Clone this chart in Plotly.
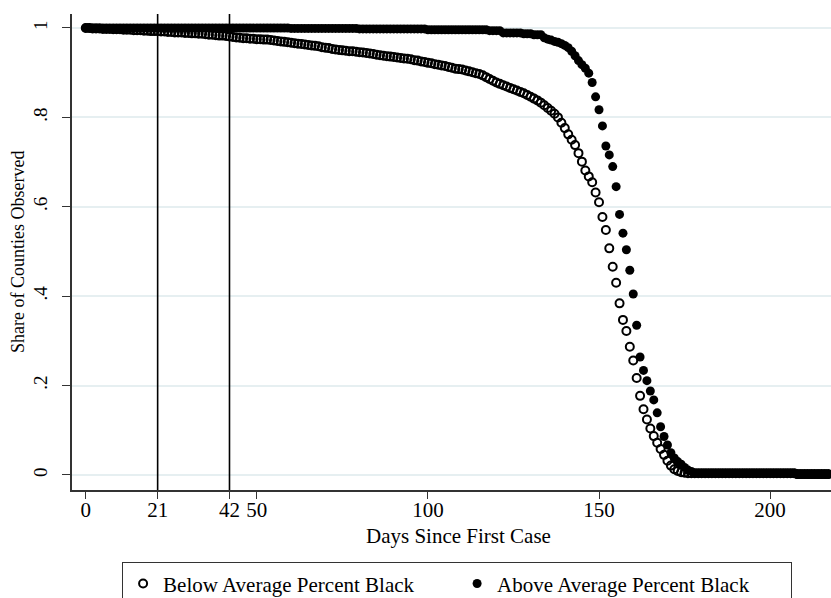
import plotly.graph_objects as go

days = list(range(0, 218))

below = [
    1.000, 1.000, 0.999, 0.999, 0.999, 0.998, 0.998, 0.998, 0.997, 0.997,
    0.997, 0.996, 0.996, 0.996, 0.995, 0.995, 0.995, 0.994, 0.994, 0.993,
    0.993, 0.993, 0.992, 0.992, 0.991, 0.991, 0.990, 0.990, 0.990, 0.989,
    0.989, 0.988, 0.988, 0.987, 0.987, 0.986, 0.985, 0.985, 0.984, 0.983,
    0.983, 0.982, 0.981, 0.980, 0.979, 0.978, 0.977, 0.977, 0.976, 0.976,
    0.975, 0.975, 0.974, 0.974, 0.973, 0.972, 0.971, 0.970, 0.969, 0.968,
    0.967, 0.966, 0.965, 0.964, 0.963, 0.962, 0.961, 0.960, 0.959, 0.957,
    0.956, 0.955, 0.953, 0.952, 0.951, 0.950, 0.949, 0.948, 0.948, 0.947,
    0.946, 0.945, 0.944, 0.943, 0.942, 0.940, 0.939, 0.938, 0.937, 0.936,
    0.935, 0.934, 0.933, 0.932, 0.931, 0.930, 0.928, 0.927, 0.925, 0.924,
    0.922, 0.921, 0.919, 0.918, 0.916, 0.915, 0.913, 0.911, 0.909, 0.908,
    0.907, 0.905, 0.903, 0.901, 0.899, 0.897, 0.894, 0.890, 0.886, 0.882,
    0.878, 0.875, 0.872, 0.869, 0.866, 0.863, 0.860, 0.857, 0.854, 0.850,
    0.846, 0.842, 0.838, 0.833, 0.827, 0.821, 0.815, 0.808, 0.800, 0.788,
    0.776, 0.762, 0.750, 0.738, 0.720, 0.701, 0.681, 0.668, 0.655, 0.632,
    0.610, 0.577, 0.548, 0.507, 0.466, 0.430, 0.384, 0.347, 0.322, 0.287,
    0.256, 0.217, 0.177, 0.147, 0.124, 0.104, 0.087, 0.072, 0.058, 0.045,
    0.032, 0.021, 0.013, 0.009, 0.006, 0.005, 0.004, 0.004, 0.004, 0.004,
    0.004, 0.004, 0.004, 0.004, 0.004, 0.004, 0.004, 0.004, 0.004, 0.004,
    0.004, 0.004, 0.004, 0.004, 0.004, 0.004, 0.004, 0.004, 0.004, 0.004,
    0.004, 0.004, 0.004, 0.004, 0.004, 0.004, 0.004, 0.004, 0.002, 0.002,
    0.002, 0.002, 0.002, 0.002, 0.002, 0.002, 0.002, 0.002,
]

above = [
    1.000, 1.000, 1.000, 1.000, 1.000, 1.000, 1.000, 1.000, 1.000, 1.000,
    1.000, 1.000, 1.000, 1.000, 1.000, 1.000, 1.000, 1.000, 1.000, 1.000,
    1.000, 1.000, 1.000, 1.000, 1.000, 1.000, 1.000, 1.000, 1.000, 1.000,
    1.000, 1.000, 1.000, 1.000, 1.000, 1.000, 1.000, 1.000, 1.000, 1.000,
    1.000, 1.000, 1.000, 1.000, 1.000, 1.000, 1.000, 1.000, 1.000, 1.000,
    1.000, 1.000, 1.000, 1.000, 1.000, 1.000, 1.000, 1.000, 1.000, 1.000,
    0.999, 0.999, 0.999, 0.999, 0.999, 0.999, 0.999, 0.999, 0.999, 0.999,
    0.999, 0.999, 0.999, 0.999, 0.999, 0.999, 0.999, 0.999, 0.999, 0.999,
    0.998, 0.998, 0.998, 0.998, 0.998, 0.998, 0.998, 0.998, 0.998, 0.998,
    0.998, 0.998, 0.998, 0.998, 0.998, 0.998, 0.998, 0.998, 0.998, 0.998,
    0.996, 0.996, 0.996, 0.996, 0.996, 0.996, 0.996, 0.996, 0.996, 0.996,
    0.996, 0.996, 0.996, 0.996, 0.996, 0.996, 0.996, 0.996, 0.994, 0.994,
    0.994, 0.994, 0.989, 0.989, 0.989, 0.989, 0.989, 0.989, 0.987, 0.987,
    0.987, 0.985, 0.985, 0.985, 0.978, 0.975, 0.973, 0.970, 0.968, 0.965,
    0.961, 0.956, 0.948, 0.938, 0.927, 0.918, 0.910, 0.899, 0.878, 0.846,
    0.817, 0.781, 0.736, 0.716, 0.690, 0.645, 0.583, 0.541, 0.504, 0.458,
    0.405, 0.335, 0.264, 0.234, 0.211, 0.188, 0.168, 0.139, 0.108, 0.086,
    0.067, 0.050, 0.038, 0.030, 0.024, 0.017, 0.011, 0.008, 0.004, 0.004,
    0.004, 0.004, 0.004, 0.004, 0.004, 0.004, 0.004, 0.004, 0.004, 0.004,
    0.004, 0.004, 0.004, 0.004, 0.004, 0.004, 0.004, 0.004, 0.004, 0.004,
    0.004, 0.004, 0.004, 0.004, 0.004, 0.004, 0.004, 0.004, 0.001, 0.001,
    0.001, 0.001, 0.001, 0.001, 0.001, 0.001, 0.001, 0.001,
]

x_tickvals = [0, 21, 42, 50, 100, 150, 200]
x_ticktext = ["0", "21", "42", "50", "100", "150", "200"]
y_tickvals = [0, 0.2, 0.4, 0.6, 0.8, 1.0]
y_ticktext = ["0", ".2", ".4", ".6", ".8", "1"]
vlines = [21, 42]

FONT = "Liberation Serif"
HSIZE = 21

fig = go.Figure()
fig.add_trace(go.Scatter(
    x=days, y=below, mode="markers", name="Below Average Percent Black",
    marker=dict(symbol="circle-open", size=8, color="black", line=dict(width=2, color="black")),
))
fig.add_trace(go.Scatter(
    x=days, y=above, mode="markers", name="Above Average Percent Black",
    marker=dict(symbol="circle", size=9, color="black", line=dict(width=0)),
))

for v in vlines:
    fig.add_shape(type="line", xref="x", yref="paper", x0=v, x1=v, y0=0, y1=1,
                  line=dict(color="black", width=1.6), layer="above")

fig.update_layout(
    width=831, height=598,
    margin=dict(l=72, r=0, t=14, b=108, autoexpand=False),
    paper_bgcolor="white", plot_bgcolor="white",
    font=dict(family=FONT, size=HSIZE, color="black"),
    showlegend=True,
    legend=dict(
        orientation="h", x=0.066, y=-0.152, xanchor="left", yanchor="top",
        bordercolor="#333333", borderwidth=1, entrywidth=289, entrywidthmode="pixels",
        font=dict(family=FONT, size=HSIZE, color="black"), itemsizing="trace",
        tracegroupgap=0, itemwidth=30,
    ),
    xaxis=dict(
        range=[-4.03, 217.8], tickmode="array", tickvals=x_tickvals, ticktext=x_ticktext,
        ticks="outside", ticklen=7, tickcolor="#333333", tickwidth=1,
        ticklabelstandoff=-7,
        showgrid=False, zeroline=False, showline=True, linecolor="#333333", linewidth=1.5,
        tickfont=dict(family=FONT, size=HSIZE, color="black"),
    ),
    yaxis=dict(
        range=[-0.0336, 1.0313], tickmode="array", tickvals=y_tickvals, ticktext=y_ticktext,
        ticks="outside", ticklen=8, tickcolor="#333333", tickwidth=1, tickangle=-90,
        ticklabelstandoff=8,
        showgrid=True, gridcolor="#e6eff1", gridwidth=2,
        zeroline=False, showline=True, linecolor="#333333", linewidth=1.5,
        tickfont=dict(family=FONT, size=19, color="black"),
    ),
    annotations=[
        dict(text="Days Since First Case", xref="paper", yref="paper", x=0.5086, y=-0.0966,
             xanchor="center", yanchor="middle", showarrow=False,
             font=dict(family=FONT, size=HSIZE, color="black")),
        dict(text="Share of Counties Observed", xref="paper", yref="paper", x=-0.0711, y=0.5,
             xanchor="center", yanchor="middle", showarrow=False, textangle=-90,
             font=dict(family=FONT, size=18, color="black")),
    ],
)

fig.write_html("out.html")
